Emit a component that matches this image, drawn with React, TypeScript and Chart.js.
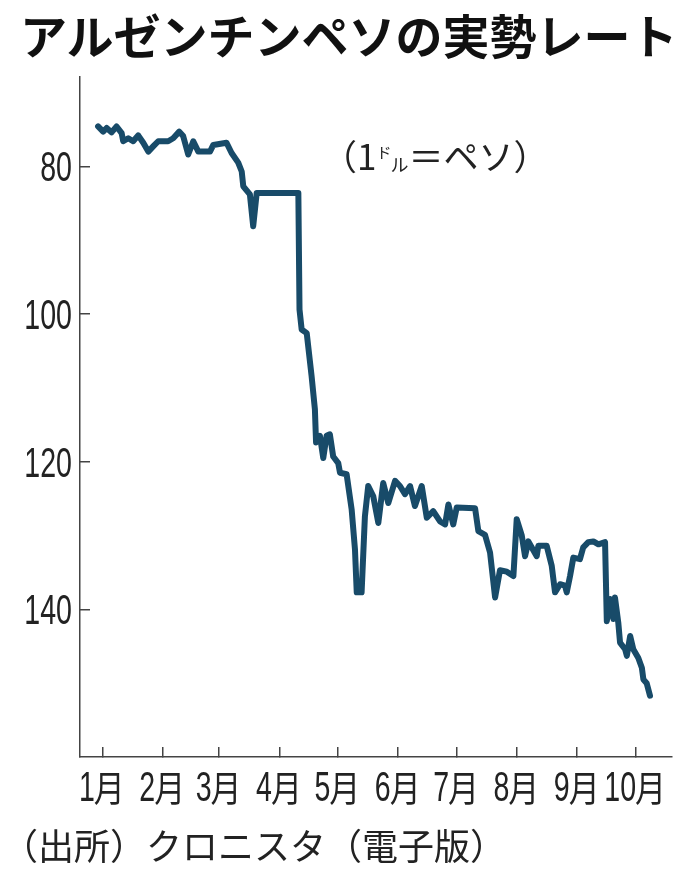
import React, { useEffect, useRef } from "react";
import { Chart, registerables } from "chart.js";

Chart.register(...registerables);

// Day of year (0 = Jan 1) and the rate (pesos per dollar)
const days = [
  -2.2, 0.4, 2.2, 4.7, 7.3, 9.9, 10.7, 13.3, 15.8, 18.4,
  21.0, 23.6, 26.1, 28.7, 33.8, 36.4, 39.5, 41.5, 44.1, 46.7,
  49.3, 55.3, 57.0, 63.8, 66.4, 69.8, 71.6, 72.4, 75.8, 77.5,
  79.3, 100.7, 101.3, 102.4, 105.0, 107.5, 109.2, 109.8, 111.8, 113.5,
  115.2, 116.9, 118.6, 121.2, 122.1, 125.5, 128.1, 129.8, 130.7, 133.2,
  134.9, 136.6, 139.2, 141.8, 144.3, 146.9, 150.4, 152.9, 155.5, 158.1,
  160.6, 164.1, 166.7, 170.0, 173.5, 176.1, 177.8, 180.3, 182.1, 191.5,
  193.2, 196.6, 199.2, 201.8, 204.3, 207.8, 211.2, 212.9, 215.5, 217.2,
  218.9, 223.2, 224.0, 228.3, 230.9, 232.6, 235.2, 237.7, 238.6, 240.3,
  242.0, 245.4, 247.1, 249.7, 252.3, 254.9, 258.3, 259.2, 260.9, 262.6,
  263.4, 265.1, 266.0, 268.6, 269.5, 271.2, 272.8, 275.4, 277.2, 278.0,
  279.7, 281.4,
];

const rates = [
  74.6, 75.3, 74.8, 75.4, 74.6, 75.5, 76.6, 76.2, 76.6, 75.8,
  76.8, 78.0, 77.3, 76.6, 76.6, 76.2, 75.3, 75.9, 78.4, 76.6,
  78.0, 78.0, 77.1, 76.8, 78.2, 79.5, 80.7, 82.7, 83.8, 88.1,
  83.6, 83.6, 99.4, 102.1, 102.6, 108.4, 112.9, 117.4, 116.5, 119.5,
  116.5, 116.3, 119.3, 120.2, 121.5, 121.7, 126.5, 131.9, 137.7, 137.7,
  127.4, 123.3, 124.7, 128.3, 122.9, 125.6, 122.6, 123.3, 124.4, 123.3,
  126.0, 123.3, 127.6, 126.7, 128.1, 128.5, 125.8, 128.5, 126.2, 126.3,
  129.4, 129.9, 132.3, 138.4, 134.7, 134.9, 135.5, 127.8, 130.0, 132.8,
  130.8, 132.8, 131.4, 131.4, 134.1, 137.7, 136.6, 136.8, 137.7, 135.5,
  133.0, 133.2, 131.6, 130.9, 130.8, 131.2, 130.9, 141.6, 138.6, 141.3,
  138.4, 141.8, 144.5, 145.4, 146.3, 143.6, 145.4, 146.6, 147.9, 149.5,
  150.0, 151.7,
];

const monthTickDays = [0, 31, 60, 91, 121, 152, 182, 213, 244, 274];
const monthLabels = ["1月", "2月", "3月", "4月", "5月", "6月", "7月", "8月", "9月", "10月"];
const rateTicks = [80, 100, 120, 140];

const TITLE = "アルゼンチンペソの実勢レート";
const SOURCE = "（出所）クロニスタ（電子版）";

const LINE_COLOR = "#184b69";
const AXIS_COLOR = "#444";
const TEXT_COLOR = "#222";
const DIGIT_FONT = '42px "Liberation Sans", Arial, sans-serif';
const KANJI_FONT = '36px "Noto Sans CJK JP", sans-serif';
const DIGIT_SQUEEZE = 0.68;
const JP_FONT = '"Noto Sans CJK JP", sans-serif';

// Draws the tick labels of both axes with narrow (condensed) digits,
// at the positions given by the chart's own scales.
const condensedTickLabels = {
  id: "condensedTickLabels",
  afterDraw(chart: any) {
    const ctx: CanvasRenderingContext2D = chart.ctx;
    const xs = chart.scales.x;
    const ys = chart.scales.y;
    ctx.save();
    ctx.fillStyle = TEXT_COLOR;
    ctx.textBaseline = "alphabetic";
    ctx.textAlign = "left";

    // y axis
    ctx.font = DIGIT_FONT;
    ys.ticks.forEach((t: any) => {
      const py = ys.getPixelForValue(t.value);
      const label = String(t.value);
      const w = ctx.measureText(label).width * DIGIT_SQUEEZE;
      ctx.save();
      ctx.translate(ys.right - 8 - w, py + 15);
      ctx.scale(DIGIT_SQUEEZE, 1);
      ctx.fillText(label, 0, 0);
      ctx.restore();
    });

    // x axis
    xs.ticks.forEach((t: any, i: number) => {
      const px = xs.getPixelForValue(t.value);
      const label = monthLabels[i];
      const num = label.slice(0, -1);
      const suffix = label.slice(-1);
      ctx.font = DIGIT_FONT;
      const wNum = ctx.measureText(num).width * DIGIT_SQUEEZE;
      ctx.font = KANJI_FONT;
      const wSuf = ctx.measureText(suffix).width * 0.86;
      const total = wNum + wSuf;
      const x0 = px - total / 2;
      const base = xs.top + 44;
      ctx.save();
      ctx.font = DIGIT_FONT;
      ctx.translate(x0, base);
      ctx.scale(DIGIT_SQUEEZE, 1);
      ctx.fillText(num, 0, 0);
      ctx.restore();
      ctx.save();
      ctx.font = KANJI_FONT;
      ctx.translate(x0 + wNum - 1, base + 1);
      ctx.scale(0.86, 1);
      ctx.fillText(suffix, 0, 0);
      ctx.restore();
    });
    ctx.restore();
  },
};

export default function App() {
  const canvasRef = useRef<HTMLCanvasElement | null>(null);

  useEffect(() => {
    const canvas = canvasRef.current;
    if (!canvas) return;
    const chart = new Chart(canvas, {
      type: "line",
      data: {
        datasets: [
          {
            data: days.map((d, i) => ({ x: d, y: rates[i] })),
            borderColor: LINE_COLOR,
            borderWidth: 6,
            pointRadius: 0,
            tension: 0,
            fill: false,
            borderJoinStyle: "round",
            borderCapStyle: "round",
          },
        ],
      },
      options: {
        animation: false,
        responsive: false,
        devicePixelRatio: 1,
        layout: { padding: { top: 77, right: 24, left: 0, bottom: 0 } },
        plugins: {
          legend: { display: false },
          tooltip: { enabled: false },
          title: { display: false },
        },
        scales: {
          x: {
            type: "linear",
            min: -11.5,
            max: 292.7,
            afterBuildTicks: (s: any) => {
              s.ticks = monthTickDays.map((v) => ({ value: v }));
            },
            afterFit: (s: any) => {
              s.height = 122;
            },
            ticks: {
              display: false,
              autoSkip: false,
              callback: (_v: any, i: number) => monthLabels[i],
            },
            grid: {
              drawOnChartArea: false,
              drawTicks: true,
              tickLength: -10,
              color: AXIS_COLOR,
              lineWidth: 1.5,
            },
            border: { color: AXIS_COLOR, width: 1.5 },
          },
          y: {
            type: "linear",
            reverse: true,
            min: 67.9,
            max: 160,
            afterBuildTicks: (s: any) => {
              s.ticks = rateTicks.map((v) => ({ value: v }));
            },
            afterFit: (s: any) => {
              s.width = 80;
            },
            ticks: { display: false },
            grid: {
              drawOnChartArea: false,
              drawTicks: true,
              tickLength: -10,
              color: AXIS_COLOR,
              lineWidth: 1.5,
            },
            border: { color: AXIS_COLOR, width: 1.5 },
          },
        },
      },
      plugins: [condensedTickLabels],
    } as any);
    return () => chart.destroy();
  }, []);

  return (
    <div
      style={{
        position: "absolute",
        left: 0,
        top: 0,
        width: 696,
        height: 879,
        background: "#fff",
        overflow: "hidden",
      }}
    >
      <canvas
        ref={canvasRef}
        width={696}
        height={879}
        style={{ position: "absolute", left: 0, top: 0, width: 696, height: 879 }}
      />
      <div
        style={{
          position: "absolute",
          left: 20,
          top: 6,
          fontFamily: JP_FONT,
          fontWeight: 700,
          fontSize: 47,
          lineHeight: "56px",
          color: "#111",
          whiteSpace: "nowrap",
        }}
      >
        {TITLE}
      </div>
      <div
        style={{
          position: "absolute",
          left: 322,
          top: 133,
          fontFamily: JP_FONT,
          fontSize: 35,
          lineHeight: "44px",
          color: TEXT_COLOR,
          whiteSpace: "nowrap",
        }}
      >
        <span>（1</span>
        <span style={{ fontSize: 15, position: "relative", top: -12 }}>ド</span>
        <span style={{ fontSize: 18, position: "relative", top: 2, marginLeft: -1 }}>ル</span>
        <span>＝ペソ）</span>
      </div>
      <div
        style={{
          position: "absolute",
          left: 2,
          top: 821,
          fontFamily: JP_FONT,
          fontSize: 36,
          lineHeight: "46px",
          color: TEXT_COLOR,
          whiteSpace: "nowrap",
        }}
      >
        {SOURCE}
      </div>
    </div>
  );
}
